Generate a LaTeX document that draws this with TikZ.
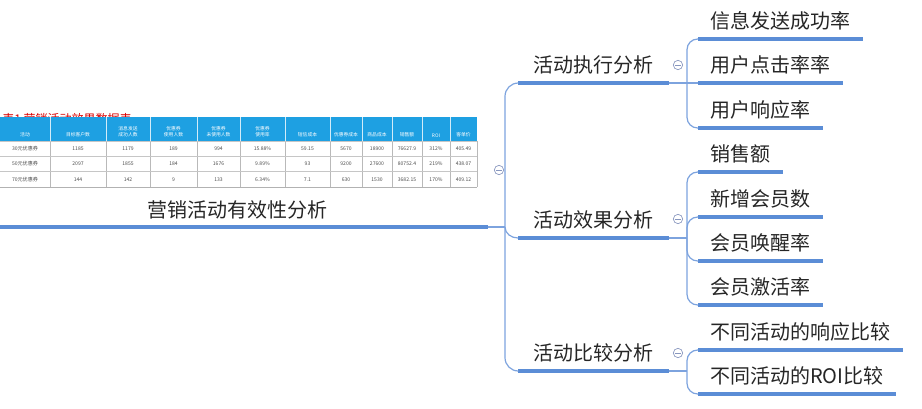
\documentclass[tikz,border=0pt]{standalone}
\usepackage{fontspec}
\setmainfont{Noto Sans CJK SC}
\usetikzlibrary{positioning, calc}

\definecolor{mapblue}{RGB}{91,141,214}
\definecolor{linkblue}{RGB}{125,163,222}
\definecolor{headblue}{RGB}{30,160,226}
\definecolor{foldgray}{RGB}{135,150,190}

\tikzset{
  topic/.style={anchor=south west, inner xsep=9pt, inner ysep=6pt, text height=13pt, text depth=2pt,
    font=\fontsize{15pt}{18pt}\selectfont, text=black!85},
  branch/.style={topic, minimum width=112.5pt},
  underline/.style={mapblue, line width=2.4pt},
  mainline/.style={mapblue, line width=3pt},
  link/.style={linkblue, line width=0.9pt},
  fold/.style={circle, draw=foldgray, line width=0.5pt, inner sep=0pt, minimum size=7pt,
    path picture={\draw[foldgray, line width=0.5pt] ([xshift=1.6pt]path picture bounding box.west) -- ([xshift=-1.6pt]path picture bounding box.east);}},
  headcell/.style={anchor=south, align=center, text=white, inner sep=0.5pt, font=\fontsize{3.6pt}{4.6pt}\selectfont},
  bodycell/.style={text=black!70, inner sep=0pt, font=\fontsize{3.8pt}{4.6pt}\selectfont}
}

\begin{document}
\begin{tikzpicture}[x=0.75pt, y=-0.75pt]
    \useasboundingbox (0,0) rectangle (922,408);

    % Table caption (cut off by the table)
    \begin{scope}
      \clip (0,110) rectangle (150,117);
      \node[red!85!black, anchor=base west, inner sep=0pt, font=\fontsize{9pt}{10pt}\selectfont] (cap) at (2,123) {表1 营销活动效果数据表};
    \end{scope}

    % Table
    \fill[headblue] (0,117) rectangle (477,141);
    \foreach \x in {50,106,150,197,240,285,330,362,392,422,450} {
      \draw[white!80!headblue, line width=0.3pt] (\x,117) -- (\x,141);
      \draw[gray!55, line width=0.3pt] (\x,141) -- (\x,187);
    }
    \foreach \y in {141,156.5,171.5} \draw[gray!45, line width=0.3pt] (0,\y) -- (477,\y);
    \draw[gray!60, line width=0.6pt] (0,187) -- (477,187);
    \draw[gray!55, line width=0.3pt] (477,141) -- (477,187);
    \foreach \cx/\txt in {25/活动, 78/目标客户数, 128/消息发送\\成功人数, 173.5/优惠券\\使用人数,
        218.5/优惠券\\未使用人数, 262.5/优惠券\\使用率, 307.5/短信成本, 346/优惠券成本,
        377/商品成本, 407/销售额, 436/ROI, 463.5/客单价}
      \node[headcell] at (\cx,138) {\txt};
    \foreach \cx/\a/\b/\c in {25/30元优惠券/50元优惠券/70元优惠券, 78/1185/2097/144, 128/1179/1855/142,
        173.5/189/184/9, 218.5/994/1676/133, 262.5/15.88\%/9.89\%/6.34\%, 307.5/59.15/93/7.1,
        346/5670/9200/630, 377/18900/27600/1530, 407/76627.9/80752.4/3682.15,
        436/312\%/219\%/170\%, 463.5/405.49/438.07/409.12} {
      \node[bodycell] at (\cx,149) {\a};
      \node[bodycell] at (\cx,164) {\b};
      \node[bodycell] at (\cx,179.5) {\c};
    }

    % Root
    \node[font=\fontsize{15pt}{18pt}\selectfont, text=black!85] (root) at (237,210) {营销活动有效性分析};
    \coordinate (rootL) at (0,227);
    \coordinate (rootR) at (488,227);
    \draw[mainline] (rootL) -- (rootR);

    % Branches
    \node[branch] (b1) at (518,83) {活动执行分析};
    \node[branch] (b2) at (518,238) {活动效果分析};
    \node[branch] (b3) at (518,371) {活动比较分析};

    % Leaves
    \node[topic] (e1) at (698,39) {信息发送成功率};
    \node[topic] (e2) at (698,83) {用户点击率率};
    \node[topic] (e3) at (698,128) {用户响应率};
    \node[topic] (x1) at (698,172) {销售额};
    \node[topic] (x2) at (698,217) {新增会员数};
    \node[topic] (x3) at (698,261) {会员唤醒率};
    \node[topic] (x4) at (698,305) {会员激活率};
    \node[topic] (c1) at (698,350) {不同活动的响应比较};
    \node[topic] (c2) at (698,394) {不同活动的ROI比较};

    \foreach \n in {b1,b2,b3,e1,e2,e3,x1,x2,x3,x4,c1,c2}
      \draw[underline] (\n.south west) -- (\n.south east);

    % Spines
    \coordinate (hub) at (505,227);
    \coordinate (s1) at (687,83);
    \coordinate (s2) at (687,238);
    \coordinate (s3) at (687,371);
    \draw[link] (rootR) -- (hub);
    \draw[link, rounded corners=10pt] (b1.south west) -| (hub) |- (b3.south west);
    \draw[link] (hub) to[out=-90, in=180] (b2.south west);

    \draw[link] (b1.south east) -- (s1);
    \draw[link, rounded corners=8pt] (e1.south west) -| (s1) |- (e3.south west);
    \draw[link] (s1) -- (e2.south west);

    \draw[link] (b2.south east) -- (s2);
    \draw[link, rounded corners=8pt] (x1.south west) -| (s2) |- (x4.south west);
    \draw[link, rounded corners=8pt] (s2) |- (x2.south west);
    \draw[link, rounded corners=8pt] (s2) |- (x3.south west);

    \draw[link] (b3.south east) -- (s3);
    \draw[link, rounded corners=8pt] (c1.south west) -| (s3) |- (c2.south west);

    % Fold marks
    \node[fold] (f0) at (499,170) {};
    \node[fold] (f1) at (678,65) {};
    \node[fold] (f2) at (678,219) {};
    \node[fold] (f3) at (678,353) {};
\end{tikzpicture}
\end{document}
